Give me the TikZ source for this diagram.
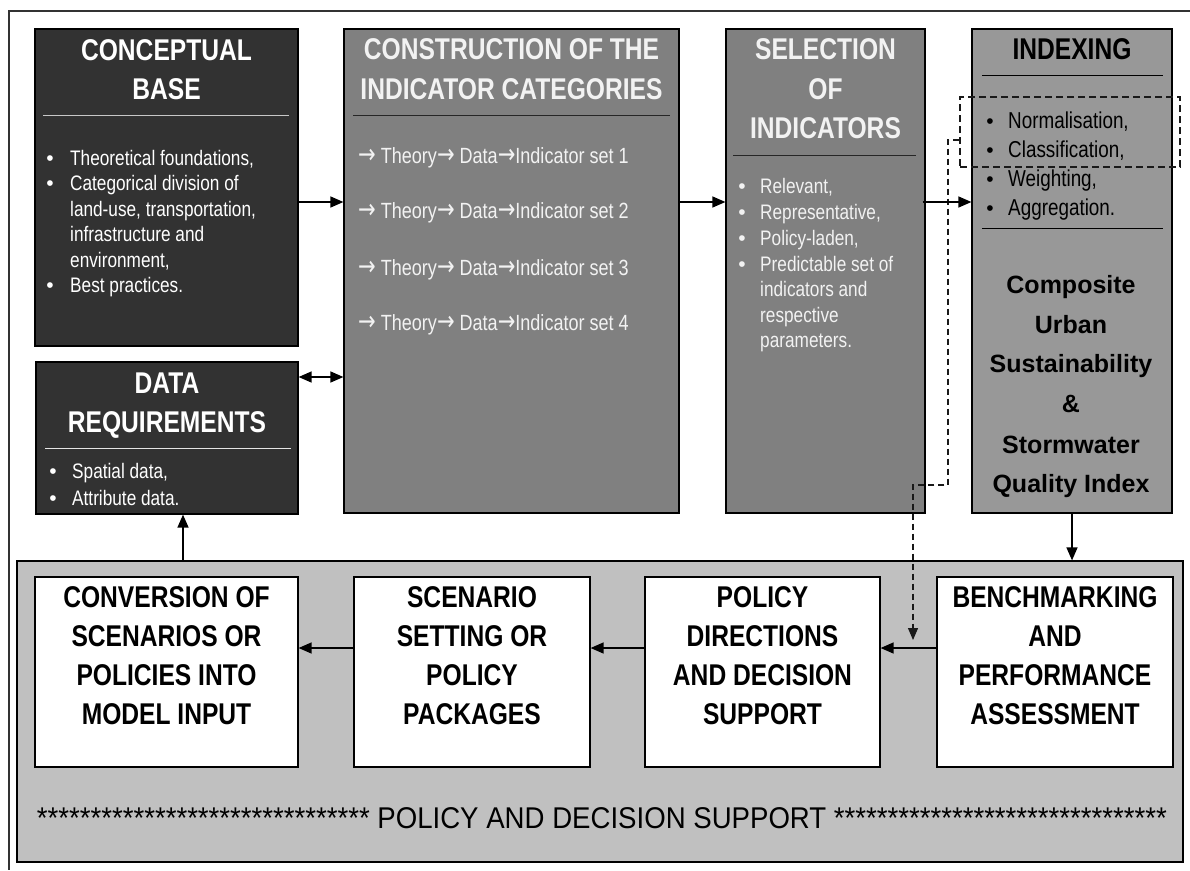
\documentclass[tikz,border=0pt]{standalone}
\usepackage{fontspec}
\setmainfont{Liberation Sans}
\newfontfamily\nar[FakeStretch=0.82]{Liberation Sans}
\newfontfamily\midnar[FakeStretch=0.92]{Liberation Sans}
\newfontfamily\arrfont[FakeStretch=0.78]{DejaVu Sans}
\newcommand{\ra}{{\arrfont\fontsize{27}{27}\selectfont →}}
\usetikzlibrary{arrows.meta}
\definecolor{darkbox}{HTML}{323232}
\definecolor{midbox}{HTML}{808080}
\definecolor{idxbox}{HTML}{989898}
\definecolor{panelbg}{HTML}{C0C0C0}
\definecolor{rulelight}{HTML}{C8C8C8}
\definecolor{textlight}{HTML}{F2F2F2}
\begin{document}
\begin{tikzpicture}[x=1pt,y=-1pt,
  box/.style={draw=black, line width=1.2pt, inner sep=0pt},
  hdr/.style={font=\nar\bfseries\fontsize{30}{30}\selectfont, anchor=base, inner sep=0pt},
  body/.style={font=\nar\fontsize{21}{21}\selectfont, anchor=base west, inner sep=0pt},
  cbody/.style={font=\nar\fontsize{22}{22}\selectfont, anchor=base west, inner sep=0pt},
  ibody/.style={font=\nar\fontsize{23}{23}\selectfont, anchor=base west, inner sep=0pt},
  bul/.style={font=\fontsize{21}{21}\selectfont, anchor=base, inner sep=0pt},
  comp/.style={font=\bfseries\fontsize{25}{25}\selectfont, anchor=base, inner sep=0pt},
  arr/.style={line width=1.3pt, -{Triangle[length=13pt,width=11pt]}},
  darr/.style={line width=1.3pt, {Triangle[length=13pt,width=11pt]}-{Triangle[length=13pt,width=11pt]}},
]
\useasboundingbox (0,0) rectangle (1190,870);
% outer frame (cropped)
\draw[line width=1.5pt, black!80] (1190,11) -- (9,11) -- (9,870);

% ---------- top boxes ----------
\node[box, fill=darkbox, minimum width=263pt, minimum height=317pt] (cb) at (166.5,187.5) {};
\node[box, fill=midbox, minimum width=335pt, minimum height=484pt] (cons) at (511.5,271) {};
\node[box, fill=midbox, minimum width=199pt, minimum height=484pt] (sel) at (825.5,271) {};
\node[box, fill=idxbox, minimum width=200pt, minimum height=484pt] (idx) at (1072,271) {};
\node[box, fill=darkbox, minimum width=262pt, minimum height=152pt] (dr) at (167,438) {};

% ---------- bottom panel ----------
\node[box, fill=panelbg, minimum width=1166pt, minimum height=301pt] (panel) at (600,711.5) {};
\node[box, fill=white, minimum width=263pt, minimum height=190pt] (conv) at (166.5,672) {};
\node[box, fill=white, minimum width=236pt, minimum height=190pt] (scen) at (472,672) {};
\node[box, fill=white, minimum width=235pt, minimum height=190pt] (pol) at (762.5,672) {};
\node[box, fill=white, minimum width=236pt, minimum height=190pt] (bench) at (1055,672) {};

% ---------- conceptual base ----------
\node[hdr, text=white] (cbh1) at (166.5,60) {CONCEPTUAL};
\node[hdr, text=white] (cbh2) at (166.5,99) {BASE};
\draw[rulelight, line width=1pt] (43,115) -- (289,115);
\node[bul, text=white] (cbb1) at (50,165) {\textbullet};
\node[body, text=white] (cbt1) at (70,165) {Theoretical foundations,};
\node[bul, text=white] (cbb2) at (50,190.5) {\textbullet};
\node[body, text=white] (cbt2) at (70,190.5) {Categorical division of};
\node[body, text=white] (cbt3) at (70,216) {land-use, transportation,};
\node[body, text=white] (cbt4) at (70,241.5) {infrastructure and};
\node[body, text=white] (cbt5) at (70,267) {environment,};
\node[bul, text=white] (cbb6) at (50,292.5) {\textbullet};
\node[body, text=white] (cbt6) at (70,292.5) {Best practices.};

% ---------- construction ----------
\node[hdr, text=textlight] (ch1) at (511.5,59) {CONSTRUCTION OF THE};
\node[hdr, text=textlight] (ch2) at (511.5,99) {INDICATOR CATEGORIES};
\draw[black!85, line width=1pt] (353,115) -- (670,115);
\node[cbody, text=textlight] (ct1) at (358,163) {\ra{} Theory\ra{} Data\ra Indicator set 1};
\node[cbody, text=textlight] (ct2) at (358,218) {\ra{} Theory\ra{} Data\ra Indicator set 2};
\node[cbody, text=textlight] (ct3) at (358,275) {\ra{} Theory\ra{} Data\ra Indicator set 3};
\node[cbody, text=textlight] (ct4) at (358,330) {\ra{} Theory\ra{} Data\ra Indicator set 4};

% ---------- selection ----------
\node[hdr, text=textlight] (sh1) at (825.5,59) {SELECTION};
\node[hdr, text=textlight] (sh2) at (825.5,99) {OF};
\node[hdr, text=textlight] (sh3) at (825.5,138) {INDICATORS};
\draw[black!85, line width=1pt] (733,155) -- (916,155);
\node[bul, text=textlight] (sb1) at (742,193) {\textbullet};
\node[body, text=textlight] (st1) at (760,193) {Relevant,};
\node[bul, text=textlight] (sb2) at (742,219) {\textbullet};
\node[body, text=textlight] (st2) at (760,219) {Representative,};
\node[bul, text=textlight] (sb3) at (742,245) {\textbullet};
\node[body, text=textlight] (st3) at (760,245) {Policy-laden,};
\node[bul, text=textlight] (sb4) at (742,271) {\textbullet};
\node[body, text=textlight] (st4) at (760,271) {Predictable set of};
\node[body, text=textlight] (st5) at (760,296.5) {indicators and};
\node[body, text=textlight] (st6) at (760,322) {respective};
\node[body, text=textlight] (st7) at (760,347.5) {parameters.};

% ---------- indexing ----------
\node[hdr, text=black] (ih1) at (1072,59) {INDEXING};
\draw[black, line width=1pt] (982,75) -- (1163,75);
\node[bul, text=black] (ib1) at (990,128) {\textbullet};
\node[ibody, text=black] (it1) at (1008,128) {Normalisation,};
\node[bul, text=black] (ib2) at (990,157) {\textbullet};
\node[ibody, text=black] (it2) at (1008,157) {Classification,};
\node[bul, text=black] (ib3) at (990,186) {\textbullet};
\node[ibody, text=black] (it3) at (1008,186) {Weighting,};
\node[bul, text=black] (ib4) at (990,215) {\textbullet};
\node[ibody, text=black] (it4) at (1008,215) {Aggregation.};
\draw[black, line width=1pt] (982,228) -- (1163,228);
\node[comp] (cp1) at (1071,293) {Composite};
\node[comp] (cp2) at (1071,333) {Urban};
\node[comp] (cp3) at (1071,372) {Sustainability};
\node[comp] (cp4) at (1071,412) {\&};
\node[comp] (cp5) at (1071,453) {Stormwater};
\node[comp] (cp6) at (1071,492) {Quality Index};

% ---------- data requirements ----------
\node[hdr, text=white] (dh1) at (167,393) {DATA};
\node[hdr, text=white] (dh2) at (167,432) {REQUIREMENTS};
\draw[white!90!black, line width=1pt] (45,448) -- (291,448);
\node[bul, text=white] (db1) at (53,478) {\textbullet};
\node[body, text=white] (dt1) at (72,478) {Spatial data,};
\node[bul, text=white] (db2) at (53,505) {\textbullet};
\node[body, text=white] (dt2) at (72,505) {Attribute data.};

% ---------- bottom texts ----------
\node[hdr] (cv1) at (166.5,607) {CONVERSION OF};
\node[hdr] (cv2) at (166.5,646) {SCENARIOS OR};
\node[hdr] (cv3) at (166.5,685) {POLICIES INTO};
\node[hdr] (cv4) at (166.5,724) {MODEL INPUT};
\node[hdr] (sc1) at (472,607) {SCENARIO};
\node[hdr] (sc2) at (472,646) {SETTING OR};
\node[hdr] (sc3) at (472,685) {POLICY};
\node[hdr] (sc4) at (472,724) {PACKAGES};
\node[hdr] (po1) at (762.5,607) {POLICY};
\node[hdr] (po2) at (762.5,646) {DIRECTIONS};
\node[hdr] (po3) at (762.5,685) {AND DECISION};
\node[hdr] (po4) at (762.5,724) {SUPPORT};
\node[hdr] (be1) at (1055,607) {BENCHMARKING};
\node[hdr] (be2) at (1055,646) {AND};
\node[hdr] (be3) at (1055,685) {PERFORMANCE};
\node[hdr] (be4) at (1055,724) {ASSESSMENT};
\node[font=\midnar\fontsize{30}{30}\selectfont, anchor=base, inner sep=0pt] (pds) at (602,828)
  {******************************* POLICY AND DECISION SUPPORT *******************************};

% ---------- dashed highlight ----------
\node[draw=black!90, line width=1.3pt, dash pattern=on 7pt off 4pt, minimum width=220pt, minimum height=70pt, inner sep=0pt] (dbox) at (1070,132) {};
\coordinate (dtip) at (913,640);
\draw[black!90, line width=1.2pt, dash pattern=on 6pt off 4pt, -{Triangle[length=12pt,width=10pt]}]
  ([yshift=-8pt]dbox.west) -- (948,140) -- (948,485) -- (913,485) -- (dtip);

% ---------- connectors ----------
\draw[arr] (cb.east |- 0,202) -- (cons.west |- 0,202);
\draw[arr] (cons.east |- 0,202) -- (sel.west |- 0,202);
\draw[arr] ([xshift=-3pt]sel.east |- 0,202) -- (idx.west |- 0,202);
\draw[darr] (dr.east |- 0,377) -- (cons.west |- 0,377);
\draw[arr] (idx.south) -- (idx.south |- panel.north);
\draw[arr] ([xshift=16pt]dr.south |- panel.north) -- ([xshift=16pt]dr.south);
\draw[arr] (bench.west |- 0,648) -- (pol.east |- 0,648);
\draw[arr] (pol.west |- 0,648) -- (scen.east |- 0,648);
\draw[arr] (scen.west |- 0,648) -- (conv.east |- 0,648);
\end{tikzpicture}
\end{document}
